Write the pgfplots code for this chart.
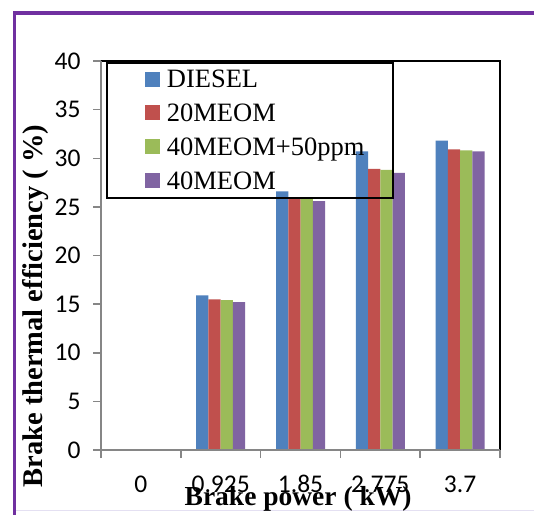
\documentclass[border=0pt]{standalone}
\usepackage{fontspec}
\setmainfont{Liberation Serif}
\newfontfamily\carlito{Carlito}
\usepackage{pgfplots}
\pgfplotsset{compat=1.18}
\definecolor{cBlue}{RGB}{79,129,189}
\definecolor{cRed}{RGB}{192,80,77}
\definecolor{cGreen}{RGB}{155,187,89}
\definecolor{cPurple}{RGB}{128,100,162}
\definecolor{framepurple}{RGB}{112,48,160}
\definecolor{axgray}{RGB}{134,134,134}
\definecolor{lav}{RGB}{228,224,242}
\begin{document}
\begin{tikzpicture}[x=1pt,y=1pt]
\useasboundingbox (0,0) rectangle (534,514);
\fill[white] (0,0) rectangle (534,514);
\draw[lav, line width=1pt] (14.7,4) -- (534,4);
\draw[framepurple, line width=3.5pt] (14.7,-5) -- (14.7,501.2) -- (540,501.2);
\begin{axis}[
  at={(101pt,64pt)}, anchor=south west,
  scale only axis, width=399pt, height=389pt,
  clip=false,
  xmin=-0.5, xmax=4.5, ymin=0, ymax=40,
  ytick={0,5,...,40},
  xtick={0,1,2,3,4},
  xticklabels={0,0.925,1.85,2.775,3.7},
  minor xtick={-0.5,0.5,1.5,2.5,3.5,4.5},
  xtick pos=bottom, ytick pos=left,
  tick align=outside,
  major tick length=8pt, minor tick length=8pt,
  tick style={axgray, line width=1.5pt},
  major x tick style={draw=none},
  axis line style={draw=none},
  /pgf/number format/assume math mode=true,
  tick label style={font=\carlito\fontsize{25.5}{25.5}\selectfont},
  yticklabel style={xshift=-9pt},
  xticklabel style={yshift=-14pt},
  xlabel={Brake power ( kW)},
  ylabel={Brake thermal efficiency ( \%)},
  label style={font=\bfseries\fontsize{27.5}{27.5}\selectfont},
  xlabel style={at={(rel axis cs:0.494,-0.142)}, anchor=base},
  ylabel style={at={(rel axis cs:-0.1454,0.370)}, anchor=base, font=\bfseries\fontsize{28.5}{28.5}\selectfont},
  ybar=0pt, bar width=12.25pt,
  legend image code/.code={\fill[#1] (0pt,-7.5pt) rectangle (15pt,7.5pt);},
  legend style={draw=none, fill=none, at={(rel axis cs:0.1103,0.984)}, anchor=north west,
    inner sep=0pt, row sep=10.2pt,
    font=\fontsize{26.5}{26.5}\selectfont,
    nodes={inner sep=0pt, text height=20.5pt, text depth=3pt},
    /tikz/every odd column/.append style={column sep=6.7pt}},
  legend cell align=left,
]
\addplot[fill=cBlue, draw=none] coordinates {(0,0) (1,15.9) (2,26.6) (3,30.7) (4,31.8)};
\addplot[fill=cRed, draw=none] coordinates {(0,0) (1,15.5) (2,26.0) (3,28.9) (4,30.9)};
\addplot[fill=cGreen, draw=none] coordinates {(0,0) (1,15.4) (2,25.8) (3,28.8) (4,30.8)};
\addplot[fill=cPurple, draw=none] coordinates {(0,0) (1,15.2) (2,25.6) (3,28.5) (4,30.7)};
\legend{DIESEL,20MEOM,40MEOM+50ppm,40MEOM}
\draw[black, line width=1.6pt] (rel axis cs:0,1) -- (rel axis cs:1,1) -- (rel axis cs:1,0);
\draw[axgray, line width=1.6pt] (rel axis cs:0,1) -- (rel axis cs:0,0) -- (rel axis cs:1,0);
\end{axis}
\draw[black, line width=1.6pt] (107,451) rectangle (393,316);
\end{tikzpicture}
\end{document}
